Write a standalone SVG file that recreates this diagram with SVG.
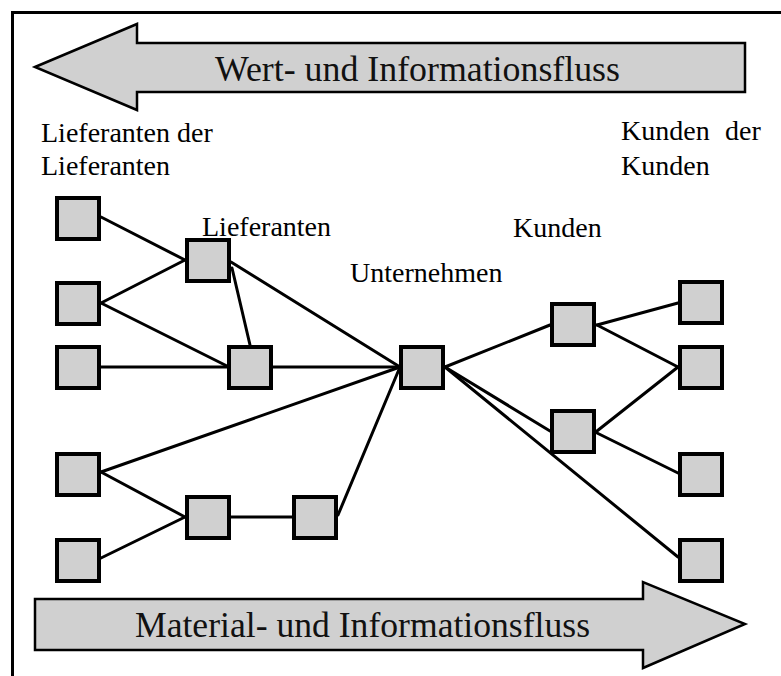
<svg xmlns="http://www.w3.org/2000/svg" width="781" height="676" viewBox="0 0 781 676">
  <style>
    .frame { fill: none; stroke: #000; stroke-width: 3; }
    .flow { fill: #d0d0d0; stroke: #000; stroke-width: 2.5; stroke-linejoin: miter; }
    .flow-text { font-family: "Liberation Serif", "Times New Roman", serif; font-size: 35px; fill: #111; }
    .label { font-family: "Liberation Serif", "Times New Roman", serif; font-size: 28px; fill: #000; }
    .node rect { fill: #d0d0d0; stroke: #000; stroke-width: 4; }
    .links line { stroke: #000; stroke-width: 3; stroke-linecap: round; }
  </style>

  <rect width="781" height="676" fill="#fff"/>
  <!-- outer border, open past the right and bottom edges -->
  <rect class="frame" x="12.5" y="12.5" width="800" height="700"/>

  <!-- value and information flow (right to left) -->
  <g id="flow-top">
    <polygon class="flow" points="35,67 137,24 137,43 745,43 745,92 137,92 137,110"/>
    <text class="flow-text" x="215" y="81" textLength="405" lengthAdjust="spacingAndGlyphs">Wert- und Informationsfluss</text>
  </g>

  <!-- material and information flow (left to right) -->
  <g id="flow-bottom">
    <polygon class="flow" points="35,599 643,599 643,582 745,624 643,668 643,650 35,650"/>
    <text class="flow-text" x="135" y="637" textLength="455" lengthAdjust="spacingAndGlyphs">Material- und Informationsfluss</text>
  </g>

  <!-- tier labels -->
  <g id="labels">
    <text class="label" x="41" y="142">Lieferanten der</text>
    <text class="label" x="41" y="175">Lieferanten</text>
    <text class="label" x="202" y="236">Lieferanten</text>
    <text class="label" x="350" y="282">Unternehmen</text>
    <text class="label" x="513" y="237">Kunden</text>
    <text class="label" x="621" y="140">Kunden</text>
    <text class="label" x="725" y="140">der</text>
    <text class="label" x="621" y="175">Kunden</text>
  </g>

  <!-- connectors -->
  <g id="links" class="links">
    <line x1="101" y1="217" x2="185" y2="260"/>
    <line x1="101" y1="303" x2="185" y2="260"/>
    <line x1="101" y1="303" x2="227" y2="366"/>
    <line x1="101" y1="367" x2="227" y2="367"/>
    <line x1="232" y1="268" x2="250" y2="345"/>
    <line x1="231" y1="262" x2="400" y2="367"/>
    <line x1="273" y1="367" x2="400" y2="367"/>
    <line x1="101" y1="472" x2="400" y2="367"/>
    <line x1="101" y1="472" x2="185" y2="517"/>
    <line x1="101" y1="558" x2="185" y2="517"/>
    <line x1="231" y1="517" x2="292" y2="517"/>
    <line x1="338" y1="515" x2="400" y2="367"/>
    <line x1="445" y1="367" x2="550" y2="325"/>
    <line x1="445" y1="367" x2="550" y2="431"/>
    <line x1="445" y1="367" x2="678" y2="557"/>
    <line x1="597" y1="325" x2="678" y2="303"/>
    <line x1="597" y1="325" x2="678" y2="367"/>
    <line x1="597" y1="431" x2="678" y2="367"/>
    <line x1="597" y1="433" x2="678" y2="473"/>
  </g>

  <!-- suppliers' suppliers -->
  <g id="ll1" class="node"><rect x="57" y="198" width="42" height="41"/></g>
  <g id="ll2" class="node"><rect x="57" y="283" width="42" height="41"/></g>
  <g id="ll3" class="node"><rect x="57" y="347" width="42" height="41"/></g>
  <g id="ll4" class="node"><rect x="57" y="454" width="42" height="41"/></g>
  <g id="ll5" class="node"><rect x="57" y="540" width="42" height="41"/></g>

  <!-- suppliers -->
  <g id="l1" class="node"><rect x="187" y="240" width="42" height="41"/></g>
  <g id="l2" class="node"><rect x="229" y="347" width="42" height="41"/></g>
  <g id="l3" class="node"><rect x="187" y="497" width="42" height="41"/></g>
  <g id="l4" class="node"><rect x="294" y="497" width="42" height="41"/></g>

  <!-- company -->
  <g id="u" class="node"><rect x="401" y="347" width="42" height="41"/></g>

  <!-- customers -->
  <g id="k1" class="node"><rect x="552" y="304" width="42" height="41"/></g>
  <g id="k2" class="node"><rect x="552" y="411" width="42" height="41"/></g>

  <!-- customers' customers -->
  <g id="kk1" class="node"><rect x="680" y="282" width="42" height="41"/></g>
  <g id="kk2" class="node"><rect x="680" y="347" width="42" height="41"/></g>
  <g id="kk3" class="node"><rect x="680" y="454" width="42" height="41"/></g>
  <g id="kk4" class="node"><rect x="680" y="540" width="42" height="41"/></g>
</svg>
